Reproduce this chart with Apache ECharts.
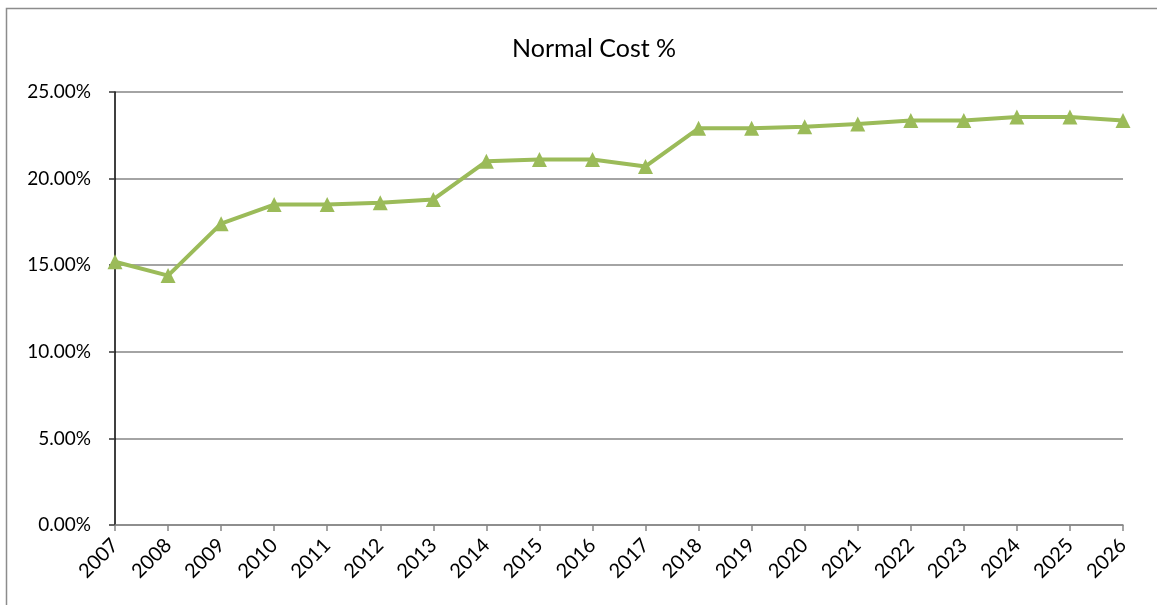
<!DOCTYPE html>
<html><head><meta charset="utf-8">
<script src="https://cdn.jsdelivr.net/npm/echarts@6/dist/echarts.min.js"></script>
<style>html,body{margin:0;padding:0;background:#fff}#c{width:1157px;height:605px}</style>
</head><body><div id="c"></div>
<script>
const years = ['2007','2008','2009','2010','2011','2012','2013','2014','2015','2016','2017','2018','2019','2020','2021','2022','2023','2024','2025','2026'];
const normalCost = [15.2,14.4,17.4,18.5,18.5,18.6,18.8,21.0,21.1,21.1,20.7,22.9,22.9,23.0,23.15,23.35,23.35,23.55,23.55,23.35];
const titleText = 'Normal Cost %';
const font = 'Lato, "Open Sans", sans-serif';
const chart = echarts.init(document.getElementById('c'));
chart.setOption({
  backgroundColor: '#fff',
  animation: false,
  title: { text: titleText, left: 507, top: 31, textStyle: { fontFamily: font, fontSize: 25, fontWeight: 'normal', color: '#000' } },
  graphic: [{ type: 'rect', shape: { x: 6.5, y: 8.5, width: 1170, height: 620 }, style: { fill: 'none', stroke: '#8c8c8c', lineWidth: 1.5 } }],
  grid: { left: 115, right: 34, top: 92, bottom: 80, containLabel: false },
  xAxis: {
    type: 'category', data: years, boundaryGap: false,
    axisLine: { lineStyle: { color: '#868686', width: 1.5 } },
    axisTick: { show: true, alignWithLabel: true, length: 6, lineStyle: { color: '#868686', width: 1.5 } },
    axisLabel: { rotate: 45, fontFamily: font, fontSize: 20, color: '#000', margin: 17, interval: 0 }
  },
  yAxis: {
    type: 'value', min: 0, max: 25, interval: 5,
    axisLine: { show: true, lineStyle: { color: '#000', width: 1.5 } },
    axisTick: { show: true, length: 6, lineStyle: { color: '#333', width: 1.5 } },
    splitLine: { lineStyle: { color: '#868686', width: 1.5 } },
    axisLabel: { formatter: v => v.toFixed(2) + '%', fontFamily: font, fontSize: 19, color: '#000', margin: 24 }
  },
  series: [{
    type: 'line', data: normalCost,
    symbol: 'triangle', symbolSize: 15,
    lineStyle: { color: '#9BBB59', width: 4 },
    itemStyle: { color: '#9BBB59' }
  }]
});
</script></body></html>
